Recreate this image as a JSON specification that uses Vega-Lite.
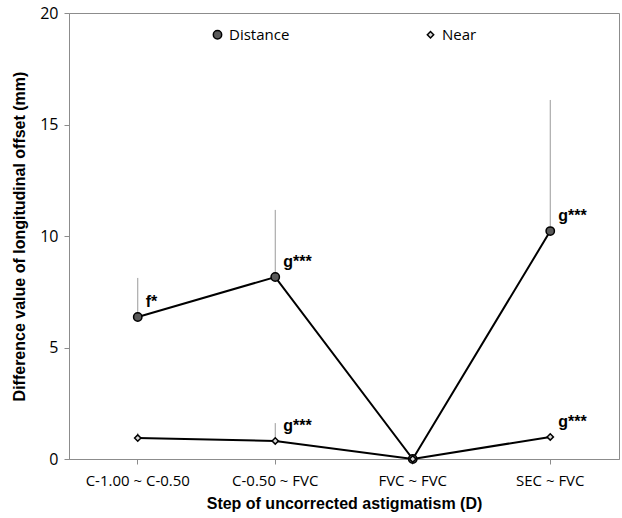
{
  "$schema": "https://vega.github.io/schema/vega-lite/v6.json",
  "width": 550,
  "height": 446,
  "autosize": {"type": "none"},
  "padding": {"left": 69, "top": 13, "right": 3, "bottom": 59},
  "background": "white",
  "config": {
    "view": {"stroke": "#8c8c8c", "strokeWidth": 1},
    "font": "Open Sans",
    "legend": {
      "title": null, "orient": "none", "legendX": 141, "legendY": 14,
      "direction": "horizontal", "columns": 2, "columnPadding": 133,
      "labelFont": "Open Sans", "labelFontSize": 15, "labelColor": "#000", "labelOffset": 4
    }
  },
  "data": {
    "values": [
      {"step": "C-1.00 ~ C-0.50", "series": "Distance", "value": 6.37, "upper": 8.12, "label": "f*"},
      {"step": "C-0.50 ~ FVC", "series": "Distance", "value": 8.16, "upper": 11.17, "label": "g***"},
      {"step": "FVC ~ FVC", "series": "Distance", "value": 0, "upper": null, "label": ""},
      {"step": "SEC ~ FVC", "series": "Distance", "value": 10.22, "upper": 16.1, "label": "g***"},
      {"step": "C-1.00 ~ C-0.50", "series": "Near", "value": 0.94, "upper": 1.17, "label": ""},
      {"step": "C-0.50 ~ FVC", "series": "Near", "value": 0.81, "upper": 1.61, "label": "g***"},
      {"step": "FVC ~ FVC", "series": "Near", "value": 0, "upper": null, "label": ""},
      {"step": "SEC ~ FVC", "series": "Near", "value": 0.99, "upper": null, "label": "g***"}
    ]
  },
  "encoding": {
    "x": {
      "field": "step", "type": "nominal",
      "sort": ["C-1.00 ~ C-0.50", "C-0.50 ~ FVC", "FVC ~ FVC", "SEC ~ FVC"],
      "scale": {"paddingInner": 0, "paddingOuter": 0},
      "axis": {
        "title": "Step of uncorrected astigmatism (D)",
        "labelAngle": 0, "labelFont": "Open Sans", "labelFontSize": 15, "labelColor": "#000",
        "labelPadding": 9, "domainColor": "#8c8c8c", "tickColor": "#8c8c8c", "tickSize": 5,
        "titleFont": "Liberation Sans", "titleFontSize": 16, "titleFontWeight": "bold",
        "titleColor": "#000", "titlePadding": 7
      }
    },
    "y": {
      "field": "value", "type": "quantitative",
      "scale": {"domain": [0, 20], "nice": false},
      "axis": {
        "title": "Difference value of longitudinal offset (mm)",
        "values": [0, 5, 10, 15, 20], "grid": false,
        "labelFont": "Open Sans", "labelFontSize": 16, "labelColor": "#000", "labelPadding": 6,
        "domainColor": "#8c8c8c", "tickColor": "#8c8c8c", "tickSize": 5,
        "titleFont": "Liberation Sans", "titleFontSize": 16, "titleFontWeight": "bold",
        "titleColor": "#000", "titlePadding": 12
      }
    }
  },
  "layer": [
    {
      "transform": [{"filter": "datum.upper != null"}],
      "mark": {"type": "rule", "color": "#9a9a9a", "strokeWidth": 1},
      "encoding": {"y2": {"field": "upper"}}
    },
    {
      "mark": {"type": "line", "color": "#000", "strokeWidth": 2},
      "encoding": {"detail": {"field": "series"}}
    },
    {
      "mark": {"type": "point", "filled": true, "stroke": "#000", "strokeWidth": 1.5, "opacity": 1},
      "encoding": {
        "shape": {
          "field": "series", "type": "nominal",
          "scale": {"domain": ["Distance", "Near"], "range": ["circle", "diamond"]},
          "legend": {
            "encode": {"symbols": {"update": {"stroke": {"value": "#000"}, "strokeWidth": {"value": 1.5}, "opacity": {"value": 1}}}}
          }
        },
        "fill": {
          "field": "series", "type": "nominal",
          "scale": {"domain": ["Distance", "Near"], "range": ["#5a5a5a", "#d9d9d9"]},
          "legend": {
            "encode": {"symbols": {"update": {"stroke": {"value": "#000"}, "strokeWidth": {"value": 1.5}, "opacity": {"value": 1}}}}
          }
        },
        "size": {
          "field": "series", "type": "nominal",
          "scale": {"domain": ["Distance", "Near"], "range": [70, 40]},
          "legend": {
            "encode": {"symbols": {"update": {"stroke": {"value": "#000"}, "strokeWidth": {"value": 1.5}, "opacity": {"value": 1}}}}
          }
        }
      }
    },
    {
      "mark": {"type": "text", "align": "left", "baseline": "middle", "dx": 8, "dy": -15,
               "font": "Liberation Sans", "fontWeight": "bold", "fontSize": 16, "color": "#000"},
      "encoding": {"text": {"field": "label"}}
    }
  ]
}
